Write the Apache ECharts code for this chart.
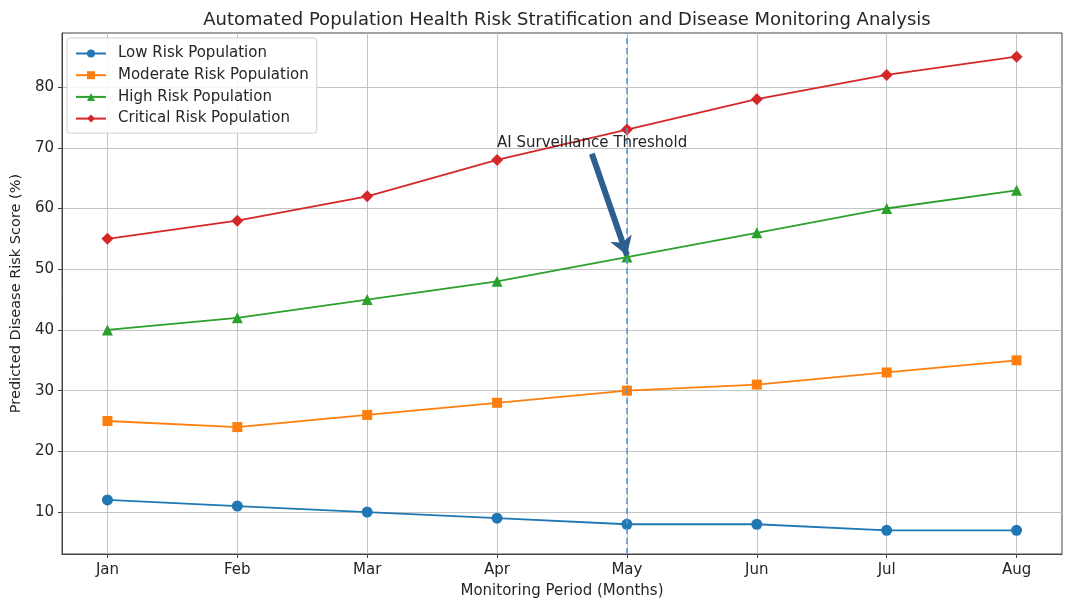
<!DOCTYPE html>
<html>
<head>
<meta charset="utf-8">
<script src="https://cdn.jsdelivr.net/npm/echarts@6/dist/echarts.min.js"></script>
<style>
html,body{margin:0;padding:0;background:#fff;}
#chart{width:1065px;height:608px;}
</style>
</head>
<body>
<div id="chart"></div>
<script>
const months = ['Jan','Feb','Mar','Apr','May','Jun','Jul','Aug'];
const lowRisk = [12, 11, 10, 9, 8, 8, 7, 7];
const moderateRisk = [25, 24, 26, 28, 30, 31, 33, 35];
const highRisk = [40, 42, 45, 48, 52, 56, 60, 63];
const criticalRisk = [55, 58, 62, 68, 73, 78, 82, 85];
const yTicks = [10, 20, 30, 40, 50, 60, 70, 80];
const thresholdMonth = 4;
const annotationText = 'AI Surveillance Threshold';
const annotationTextPos = [3, 70.8];
const arrowStart = [3.73, 69.0];
const arrowEnd = [4, 52.3];

const xIdx = months.map((m, i) => i);
const toPairs = arr => arr.map((v, i) => [i, v]);
const FONT = 'DejaVu Sans';
const TXT = '#262626';

const seriesDefs = [
  {name: 'Low Risk Population', data: lowRisk, color: '#1f77b4', symbol: 'circle', size: 11},
  {name: 'Moderate Risk Population', data: moderateRisk, color: '#ff7f0e', symbol: 'rect', size: 10},
  {name: 'High Risk Population', data: highRisk, color: '#2ca02c', symbol: 'triangle', size: 11},
  {name: 'Critical Risk Population', data: criticalRisk, color: '#d62728', symbol: 'diamond', size: 12}
];

const series = seriesDefs.map(d => ({
  name: d.name,
  type: 'line',
  data: toPairs(d.data),
  symbol: d.symbol,
  symbolSize: d.size,
  showSymbol: true,
  lineStyle: {color: d.color, width: 1.8},
  itemStyle: {color: d.color},
  z: 3,
  animation: false
}));

series.push({
  name: 'annot',
  type: 'line',
  data: [],
  silent: true,
  animation: false,
  z: 5,
  markLine: {
    silent: true,
    animation: false,
    label: {show: false},
    data: [
      [
        {coord: [thresholdMonth, 3.1], symbol: 'none', lineStyle: {color: '#5b9bd5', width: 1.6, type: [6, 4]}},
        {coord: [thresholdMonth, 88.9], symbol: 'none'}
      ],
      [
        {coord: arrowStart, symbol: 'none', lineStyle: {color: '#2c5f8e', width: 6, type: 'solid'}},
        {coord: arrowEnd, symbol: 'arrow', symbolSize: [17, 18]}
      ]
    ]
  },
  markPoint: {
    silent: true,
    animation: false,
    symbol: 'circle',
    symbolSize: 0,
    data: [{coord: annotationTextPos}],
    label: {
      show: true,
      position: 'right',
      distance: 0,
      formatter: annotationText,
      color: TXT,
      fontFamily: FONT,
      fontSize: 15
    }
  }
});

const chart = echarts.init(document.getElementById('chart'), null, {renderer: 'canvas'});
chart.setOption({
  animation: false,
  backgroundColor: '#fff',
  title: {
    text: 'Automated Population Health Risk Stratification and Disease Monitoring Analysis',
    left: 562,
    textAlign: 'center',
    top: 6,
    textStyle: {fontFamily: FONT, fontSize: 18, fontWeight: 'normal', color: TXT}
  },
  legend: {
    data: seriesDefs.map(d => d.name),
    orient: 'vertical',
    left: 67,
    top: 38,
    padding: [7, 8, 6, 8],
    itemGap: 4.7,
    itemWidth: 30,
    itemHeight: 10,
    backgroundColor: 'rgba(255,255,255,0.85)',
    borderColor: '#d0d0d0',
    borderWidth: 1,
    borderRadius: 3,
    textStyle: {fontFamily: FONT, fontSize: 15, color: TXT, padding: [0, 0, 0, 7], lineHeight: 17}
  },
  grid: {
    left: 62, right: 3, top: 33, bottom: 54,
    outerBoundsMode: 'none',
    containLabel: false,
    show: true, borderColor: '#444', borderWidth: 1, backgroundColor: 'transparent'
  },
  xAxis: {
    type: 'value',
    min: -0.35,
    max: 7.35,
    name: 'Monitoring Period (Months)',
    nameLocation: 'middle',
    nameGap: 30,
    nameTextStyle: {fontFamily: FONT, fontSize: 15, color: TXT},
    axisLine: {show: true, onZero: false, lineStyle: {color: '#444'}},
    axisTick: {show: true, customValues: xIdx, length: 4, lineStyle: {color: '#444'}},
    axisLabel: {customValues: xIdx, formatter: v => months[Math.round(v)], fontFamily: FONT, fontSize: 15, color: TXT, margin: 9},
    splitLine: {show: true, lineStyle: {color: '#c4c4c4', width: 1}}
  },
  yAxis: {
    type: 'value',
    min: 3.1,
    max: 88.9,
    name: 'Predicted Disease Risk Score (%)',
    nameLocation: 'middle',
    nameGap: 37,
    nameTextStyle: {fontFamily: FONT, fontSize: 14.5, color: TXT},
    axisLine: {show: true, onZero: false, lineStyle: {color: '#444'}},
    axisTick: {show: true, customValues: yTicks, length: 4, lineStyle: {color: '#444'}},
    axisLabel: {customValues: yTicks, fontFamily: FONT, fontSize: 15, color: TXT, margin: 8},
    splitLine: {show: true, lineStyle: {color: '#c4c4c4', width: 1}}
  },
  series: series
});
</script>
</body>
</html>
